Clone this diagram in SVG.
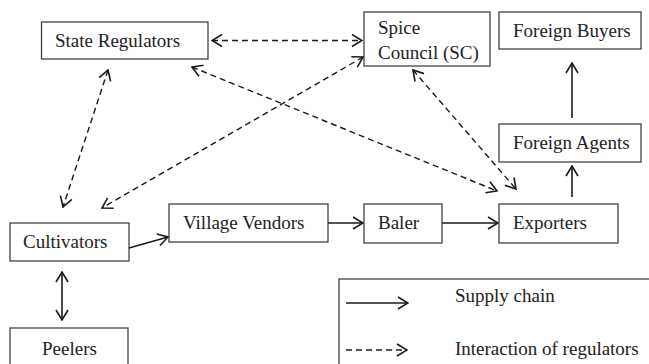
<svg xmlns="http://www.w3.org/2000/svg" width="649" height="364" viewBox="0 0 649 364">
  <style>
    .box { fill: #ffffff; stroke: #444444; stroke-width: 1.3; }
    .label { font-family: 'Liberation Serif', 'Times New Roman', serif; font-size: 19px; fill: #222222; }
    .solid { fill: none; stroke: #1a1a1a; stroke-width: 1.6; }
    .dashed { fill: none; stroke: #1a1a1a; stroke-width: 1.4; stroke-dasharray: 6 4; }
  </style>
  <defs>
    <marker id="chev" viewBox="0 0 12 14" refX="11" refY="7" markerWidth="12" markerHeight="14" markerUnits="userSpaceOnUse" orient="auto-start-reverse">
      <path d="M1,1 L11,7 L1,13" fill="none" stroke="#1a1a1a" stroke-width="1.6"/>
    </marker>
  </defs>
  <rect width="649" height="364" fill="#ffffff"/>

  <g id="state-regulators">
    <rect class="box" x="41.5" y="22" width="166.5" height="37"/>
    <text class="label" x="55" y="47">State Regulators</text>
  </g>
  <g id="spice-council">
    <rect class="box" x="364" y="12" width="126" height="54"/>
    <text class="label" x="378" y="34">Spice</text>
    <text class="label" x="378" y="59">Council (SC)</text>
  </g>
  <g id="foreign-buyers">
    <rect class="box" x="499" y="12" width="142" height="37"/>
    <text class="label" x="513" y="37">Foreign Buyers</text>
  </g>
  <g id="foreign-agents">
    <rect class="box" x="499" y="124" width="142" height="38"/>
    <text class="label" x="513" y="149">Foreign Agents</text>
  </g>
  <g id="exporters">
    <rect class="box" x="499" y="204" width="119" height="39"/>
    <text class="label" x="513" y="229">Exporters</text>
  </g>
  <g id="baler">
    <rect class="box" x="364" y="204" width="78" height="39"/>
    <text class="label" x="378" y="229">Baler</text>
  </g>
  <g id="village-vendors">
    <rect class="box" x="169" y="204" width="159" height="38"/>
    <text class="label" x="183" y="229">Village Vendors</text>
  </g>
  <g id="cultivators">
    <rect class="box" x="10" y="223" width="119" height="38"/>
    <text class="label" x="23" y="248">Cultivators</text>
  </g>
  <g id="peelers">
    <rect class="box" x="10" y="328" width="118" height="45"/>
    <text class="label" x="42" y="355">Peelers</text>
  </g>

  <g id="connectors">
    <!-- supply chain -->
    <line class="solid" x1="572" y1="118" x2="572" y2="63" marker-end="url(#chev)"/>
    <line class="solid" x1="572" y1="197" x2="572" y2="166" marker-end="url(#chev)"/>
    <line class="solid" x1="442" y1="223" x2="498" y2="223" marker-end="url(#chev)"/>
    <line class="solid" x1="328" y1="223" x2="363" y2="223" marker-end="url(#chev)"/>
    <line class="solid" x1="129" y1="248" x2="168" y2="237" marker-end="url(#chev)"/>
    <line class="solid" x1="62" y1="272" x2="62" y2="320" marker-start="url(#chev)" marker-end="url(#chev)"/>
    <!-- regulator interactions -->
    <line class="dashed" x1="212" y1="40.5" x2="362" y2="40.5" marker-start="url(#chev)" marker-end="url(#chev)"/>
    <line class="dashed" x1="108" y1="70" x2="63" y2="207" marker-start="url(#chev)" marker-end="url(#chev)"/>
    <line class="dashed" x1="192" y1="67" x2="497" y2="191" marker-start="url(#chev)" marker-end="url(#chev)"/>
    <line class="dashed" x1="363" y1="57" x2="102" y2="208" marker-start="url(#chev)" marker-end="url(#chev)"/>
    <line class="dashed" x1="413" y1="70" x2="516" y2="189" marker-start="url(#chev)" marker-end="url(#chev)"/>
  </g>

  <g id="legend">
    <rect class="box" x="339" y="279" width="320" height="100"/>
    <line class="solid" x1="346" y1="303" x2="408" y2="303" marker-end="url(#chev)"/>
    <text class="label" x="455" y="302">Supply chain</text>
    <line class="dashed" x1="346" y1="350" x2="407" y2="350" marker-end="url(#chev)"/>
    <text class="label" x="455" y="355">Interaction of regulators</text>
  </g>
</svg>
